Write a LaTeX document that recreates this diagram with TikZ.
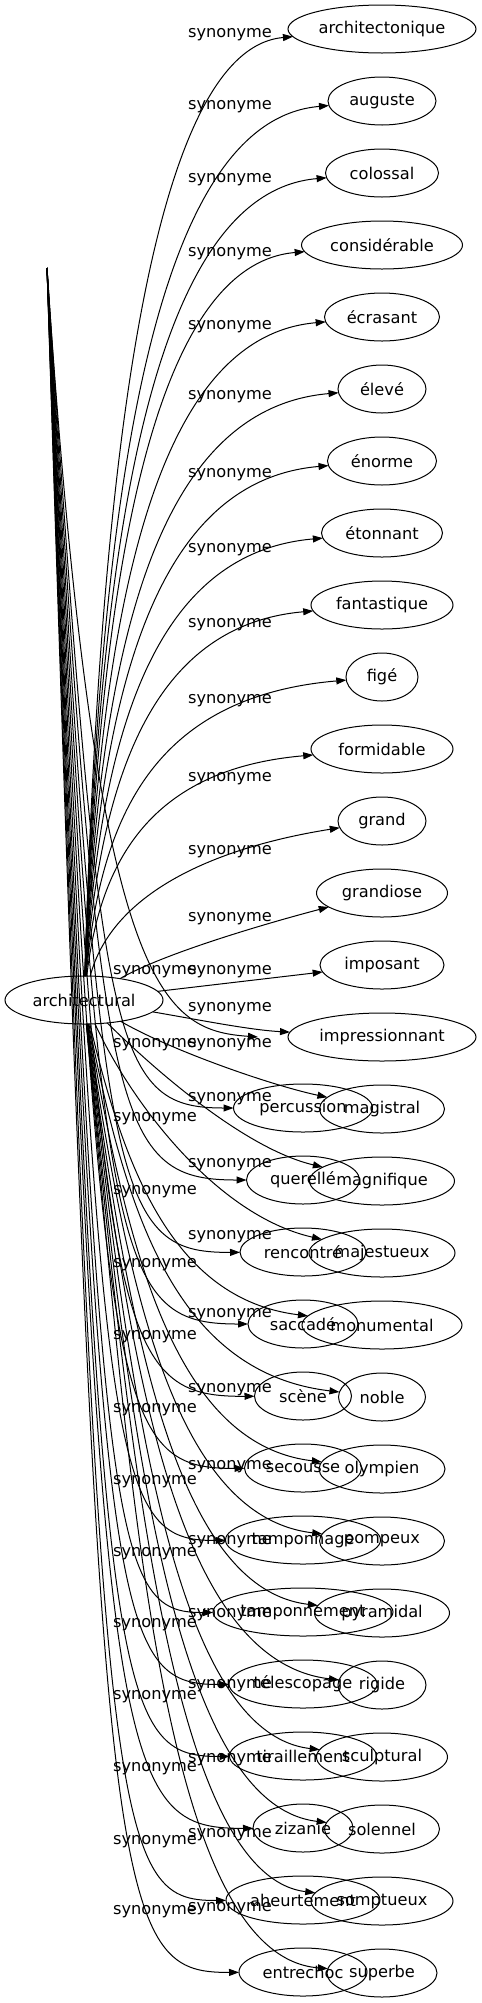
\documentclass[tikz,border=0pt]{standalone}
\usepackage{fontspec}
\setmainfont{DejaVu Sans}
\usetikzlibrary{shapes.geometric, positioning, arrows.meta}

\begin{document}
\begin{tikzpicture}[x=0.5pt, y=-0.5pt,
    font=\fontsize{8.1}{9.7}\selectfont,
    word/.style={ellipse, draw, line width=0.5pt, inner sep=0pt, outer sep=0pt, minimum height=24pt},
    lbl/.style={inner sep=0pt},
    syn/.style={->, >={Triangle[length=5pt,width=3.5pt]}, line width=0.5pt}]
    \useasboundingbox (0,0) rectangle (482,2003);
    % Add the words
        \node[word, minimum width=79pt] (arch) at (84,1000) {architectural};
        \node[word, minimum width=94pt] (architectonique) at (382,29) {architectonique};
        \node[word, minimum width=54pt,
            below=12pt of architectonique] (auguste) {auguste};
        \node[word, minimum width=56.5pt,
            below=12pt of auguste] (colossal) {colossal};
        \node[word, minimum width=80.5pt,
            below=12pt of colossal] (considerable) {considérable};
        \node[word, minimum width=57.5pt,
            below=12pt of considerable] (ecrasant) {écrasant};
        \node[word, minimum width=44pt,
            below=12pt of ecrasant] (eleve) {élevé};
        \node[word, minimum width=54.5pt,
            below=12pt of eleve] (enorme) {énorme};
        \node[word, minimum width=60.5pt,
            below=12pt of enorme] (etonnant) {étonnant};
        \node[word, minimum width=71pt,
            below=12pt of etonnant] (fantastique) {fantastique};
        \node[word, minimum width=36pt,
            below=12pt of fantastique] (fige) {figé};
        \node[word, minimum width=71pt,
            below=12pt of fige] (formidable) {formidable};
        \node[word, minimum width=44pt,
            below=12pt of formidable] (grand) {grand};
        \node[word, minimum width=65.5pt,
            below=12pt of grand] (grandiose) {grandiose};
        \node[word, minimum width=62pt,
            below=12pt of grandiose] (imposant) {imposant};
        \node[word, minimum width=94pt,
            below=12pt of imposant] (impressionnant) {impressionnant};
        \node[word, minimum width=62.5pt,
            below=12pt of impressionnant] (magistral) {magistral};
        \node[word, minimum width=72.5pt,
            below=12pt of magistral] (magnifique) {magnifique};
        \node[word, minimum width=73pt,
            below=12pt of magnifique] (majestueux) {majestueux};
        \node[word, minimum width=80pt,
            below=12pt of majestueux] (monumental) {monumental};
        \node[word, minimum width=43.5pt,
            below=12pt of monumental] (noble) {noble};
        \node[word, minimum width=63pt,
            below=12pt of noble] (olympien) {olympien};
        \node[word, minimum width=62.5pt,
            below=12pt of olympien] (pompeux) {pompeux};
        \node[word, minimum width=67.5pt,
            below=12pt of pompeux] (pyramidal) {pyramidal};
        \node[word, minimum width=44pt,
            below=12pt of pyramidal] (rigide) {rigide};
        \node[word, minimum width=65.5pt,
            below=12pt of rigide] (sculptural) {sculptural};
        \node[word, minimum width=57.5pt,
            below=12pt of sculptural] (solennel) {solennel};
        \node[word, minimum width=71pt,
            below=12pt of solennel] (somptueux) {somptueux};
        \node[word, minimum width=55pt,
            below=12pt of somptueux] (superbe) {superbe};
    % second column, over the first one
        \node[word, minimum width=69.5pt] (percussion) at (303,1108) {percussion};
        \node[word, minimum width=56.5pt,
            below=12pt of percussion] (querelle) {querellé};
        \node[word, minimum width=63pt,
            below=12pt of querelle] (rencontre) {rencontré};
        \node[word, minimum width=55pt,
            below=12pt of rencontre] (saccade) {saccadé};
        \node[word, minimum width=48.5pt,
            below=12pt of saccade] (scene) {scène};
        \node[word, minimum width=58.5pt,
            below=12pt of scene] (secousse) {secousse};
        \node[word, minimum width=77.5pt,
            below=12pt of secousse] (tamponnage) {tamponnage};
        \node[word, minimum width=90pt,
            below=12pt of tamponnage] (tamponnement) {tamponnement};
        \node[word, minimum width=74pt,
            below=12pt of tamponnement] (telescopage) {télescopage};
        \node[word, minimum width=73.5pt,
            below=12pt of telescopage] (tiraillement) {tiraillement};
        \node[word, minimum width=50pt,
            below=12pt of tiraillement] (zizanie) {zizanie};
        \node[word, minimum width=77pt,
            below=12pt of zizanie] (aheurtement) {aheurtement};
        \node[word, minimum width=64pt,
            below=12pt of aheurtement] (entrechoc) {entrechoc};
        \coordinate (src) at (47,268);
        \coordinate (ghost) at (258,1037);

    % edges of architectural
        \draw[syn] (arch) .. controls (100,466) and (150,49) .. (architectonique);
        \draw[syn] (arch) .. controls (100,506) and (150,121) .. (auguste);
        \draw[syn] (arch) .. controls (100,545) and (150,193) .. (colossal);
        \draw[syn] (arch) .. controls (100,585) and (150,265) .. (considerable);
        \draw[syn] (arch) .. controls (100,624) and (150,337) .. (ecrasant);
        \draw[syn] (arch) .. controls (100,664) and (150,409) .. (eleve);
        \draw[syn] (arch) .. controls (100,704) and (150,481) .. (enorme);
        \draw[syn] (arch) .. controls (100,743) and (150,553) .. (etonnant);
        \draw[syn] (arch) .. controls (100,783) and (150,625) .. (fantastique);
        \draw[syn] (arch) .. controls (100,822) and (150,697) .. (fige);
        \draw[syn] (arch) .. controls (100,862) and (150,769) .. (formidable);
        \draw[syn] (arch) .. controls (110,900) and (200,850) .. (grand);
        \draw[syn] (arch) .. controls (160,955) and (260,925) .. (grandiose);
        \draw[syn] (arch) -- (imposant);
        \draw[syn] (arch) .. controls (200,1020) and (250,1030) .. (impressionnant);
        \draw[syn] (arch) .. controls (170,1050) and (270,1085) .. (magistral);
        \draw[syn] (arch) .. controls (165,1080) and (250,1150) .. (magnifique);
        \draw[syn] (arch) .. controls (130,1100) and (215,1215) .. (majestueux);
        \draw[syn] (arch) .. controls (123,1162) and (170,1299) .. (monumental);
        \draw[syn] (arch) .. controls (124,1199) and (170,1372) .. (noble);
        \draw[syn] (arch) .. controls (125,1235) and (170,1444) .. (olympien);
        \draw[syn] (arch) .. controls (125,1271) and (170,1516) .. (pompeux);
        \draw[syn] (arch) .. controls (126,1307) and (170,1588) .. (pyramidal);
        \draw[syn] (arch) .. controls (127,1343) and (170,1660) .. (rigide);
        \draw[syn] (arch) .. controls (128,1379) and (170,1732) .. (sculptural);
        \draw[syn] (arch) .. controls (128,1415) and (170,1804) .. (solennel);
        \draw[syn] (arch) .. controls (129,1450) and (170,1875) .. (somptueux);
        \draw[syn] (arch) .. controls (130,1486) and (160,1955) .. (superbe);
    % edges of the second column
        \draw[syn] (src) .. controls (95,990) and (160,1030) .. (ghost);
        \draw[syn] (src) .. controls (100,1048) and (110,1108) .. (percussion);
        \draw[syn] (src) .. controls (100,1120) and (110,1180) .. (querelle);
        \draw[syn] (src) .. controls (100,1193) and (110,1253) .. (rencontre);
        \draw[syn] (src) .. controls (100,1264) and (110,1324) .. (saccade);
        \draw[syn] (src) .. controls (100,1337) and (110,1397) .. (scene);
        \draw[syn] (src) .. controls (100,1409) and (110,1469) .. (secousse);
        \draw[syn] (src) .. controls (100,1481) and (110,1541) .. (tamponnage);
        \draw[syn] (src) .. controls (100,1553) and (110,1613) .. (tamponnement);
        \draw[syn] (src) .. controls (100,1625) and (110,1685) .. (telescopage);
        \draw[syn] (src) .. controls (100,1697) and (110,1757) .. (tiraillement);
        \draw[syn] (src) .. controls (100,1769) and (110,1829) .. (zizanie);
        \draw[syn] (src) .. controls (100,1841) and (110,1901) .. (aheurtement);
        \draw[syn] (src) .. controls (100,1913) and (110,1973) .. (entrechoc);

    % labels
        \node[lbl] (s1) at (230,35) {synonyme};
        \node[lbl] (s2) at (230,107) {synonyme};
        \node[lbl] (s3) at (230,180) {synonyme};
        \node[lbl] (s4) at (230,254) {synonyme};
        \node[lbl] (s5) at (230,327) {synonyme};
        \node[lbl] (s6) at (230,397) {synonyme};
        \node[lbl] (s7) at (230,475) {synonyme};
        \node[lbl] (s8) at (230,550) {synonyme};
        \node[lbl] (s9) at (230,625) {synonyme};
        \node[lbl] (s10) at (230,701) {synonyme};
        \node[lbl] (s11) at (230,779) {synonyme};
        \node[lbl] (s12) at (230,852) {synonyme};
        \node[lbl] (s13) at (230,919) {synonyme};
        \node[lbl] (s14) at (230,972) {synonyme};
        \node[lbl] (s15) at (230,1009) {synonyme};
        \node[lbl] (s16) at (230,1045) {synonyme};
        \node[lbl] (s17) at (230,1099) {synonyme};
        \node[lbl] (s18) at (230,1165) {synonyme};
        \node[lbl] (s19) at (230,1237) {synonyme};
        \node[lbl] (s20) at (230,1315) {synonyme};
        \node[lbl] (s21) at (230,1390) {synonyme};
        \node[lbl] (s22) at (230,1467) {synonyme};
        \node[lbl] (s23) at (230,1542) {synonyme};
        \node[lbl] (s24) at (230,1615) {synonyme};
        \node[lbl] (s25) at (230,1686) {synonyme};
        \node[lbl] (s26) at (230,1760) {synonyme};
        \node[lbl] (s27) at (230,1835) {synonyme};
        \node[lbl] (s28) at (230,1909) {synonyme};
        \node[lbl] (t1) at (155,972) {synonyme};
        \node[lbl] (t2) at (155,1045) {synonyme};
        \node[lbl] (t3) at (155,1119) {synonyme};
        \node[lbl] (t4) at (155,1192) {synonyme};
        \node[lbl] (t5) at (155,1265) {synonyme};
        \node[lbl] (t6) at (155,1337) {synonyme};
        \node[lbl] (t7) at (155,1410) {synonyme};
        \node[lbl] (t8) at (155,1482) {synonyme};
        \node[lbl] (t9) at (155,1554) {synonyme};
        \node[lbl] (t10) at (155,1625) {synonyme};
        \node[lbl] (t11) at (155,1697) {synonyme};
        \node[lbl] (t12) at (155,1769) {synonyme};
        \node[lbl] (t13) at (155,1842) {synonyme};
        \node[lbl] (t14) at (155,1912) {synonyme};
\end{tikzpicture}
\end{document}
